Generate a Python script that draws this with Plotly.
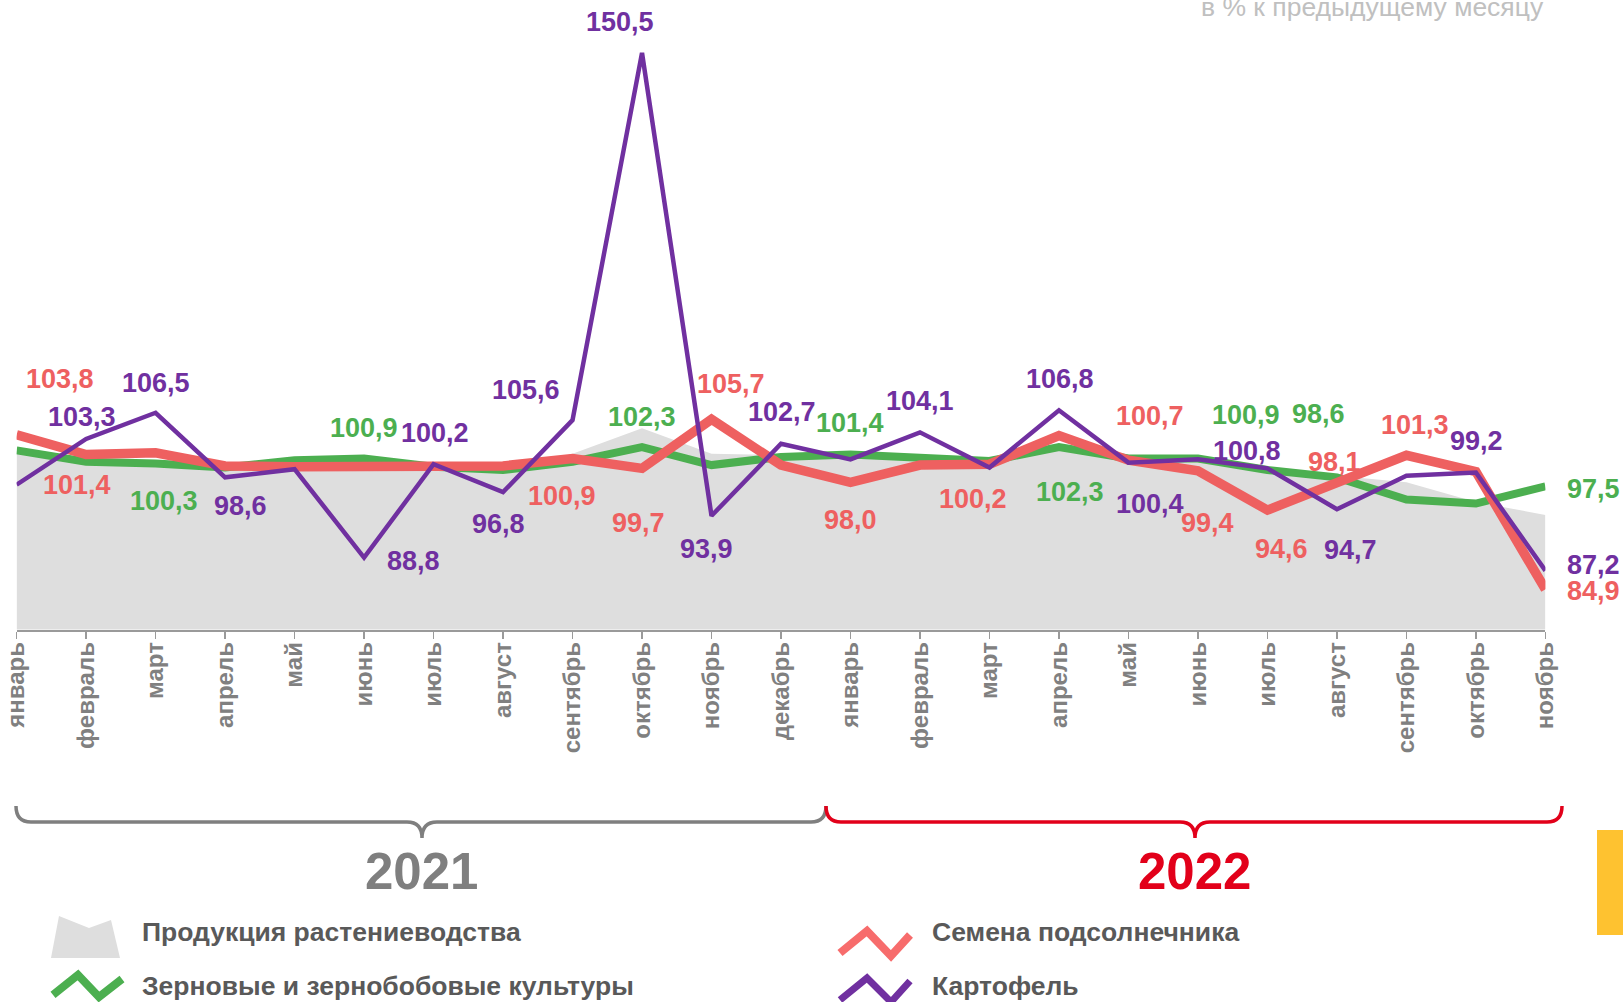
import plotly.graph_objects as go

# ---------------- data ----------------
months_2021 = ["январь", "февраль", "март", "апрель", "май", "июнь", "июль", "август",
               "сентябрь", "октябрь", "ноябрь", "декабрь"]
months_2022 = ["январь", "февраль", "март", "апрель", "май", "июнь", "июль", "август",
               "сентябрь", "октябрь", "ноябрь"]
tick_labels = months_2021 + months_2022

crop_production = [101.8, 100.6, 100.3, 99.8, 100.6, 100.8, 99.9, 99.5, 101.5, 104.6, 101.5, 101.3,
                   101.2, 100.7, 100.5, 102.0, 100.8, 100.7, 99.8, 98.8, 98.0, 95.6, 94.0]
grain = [101.9, 100.5, 100.3, 99.8, 100.7, 100.9, 99.9, 99.5, 100.5, 102.3, 100.1, 101.1,
         101.4, 100.9, 100.6, 102.3, 100.9, 100.9, 99.5, 98.6, 95.9, 95.4, 97.5]
sunflower = [103.8, 101.4, 101.6, 100.0, 99.9, 99.9, 100.0, 100.0, 100.9, 99.7, 105.7, 100.1,
             98.0, 100.1, 100.2, 103.7, 100.7, 99.4, 94.6, 98.1, 101.3, 99.3, 84.9]
potato = [97.7, 103.3, 106.5, 98.6, 99.6, 88.8, 100.2, 96.8, 105.6, 150.5, 93.9, 102.7,
          100.8, 104.1, 99.8, 106.8, 100.4, 100.8, 99.7, 94.7, 98.8, 99.2, 87.2]

series_names = ["Продукция растениеводства", "Зерновые и зернобобовые культуры",
                "Семена подсолнечника", "Картофель"]
year_labels = ["2021", "2022"]
unit_note = "в % к предыдущему месяцу"

# ---------------- style ----------------
W, H = 1623, 1002
C_AREA = "#dedede"
C_GREEN = "#4caf50"
C_RED = "#ee6060"
C_PURPLE = "#7030a0"
C_GRAY_TXT = "#808080"
C_LEG_TXT = "#595959"
C_YEAR22 = "#e2001a"
FONT = "Liberation Sans, Arial, sans-serif"

# which points are labelled, with pixel offsets of the label from the point
lab_potato = [(1, -4, 22), (2, 0, 30), (3, 15, -29), (5, 49, -3), (6, 1, 31), (7, -5, -32),
              (8, -47, 30), (9, -22, 31), (10, -5, -33), (11, 1, 32), (13, 0, 31), (15, 1, 31),
              (16, 22, -41), (17, 49, 8), (19, 14, -41), (21, 1, 31), (22, 48, 6)]
lab_sunflower = [(0, 43, 56), (1, -9, -31), (8, -11, -37), (9, -4, -55), (10, 19, 35),
                 (12, 0, -38), (14, -16, -35), (16, 22, 44), (17, 10, -52), (18, 14, -39),
                 (19, -2, 19), (20, 9, 30), (22, 48, -2)]
lab_grain = [(2, 8, -38), (5, 0, 31), (9, 0, 30), (12, 0, 31), (15, 11, -45), (17, 48, 44),
             (19, -18, 63), (22, 48, -3)]

x = list(range(len(tick_labels)))


def P(px, py):
    return px / W, 1 - py / H


fig = go.Figure()
fig.add_trace(go.Scatter(x=x, y=crop_production, mode="lines", fill="tozeroy",
                         fillcolor=C_AREA, line=dict(width=0, color=C_AREA),
                         name=series_names[0], hoverinfo="skip"))
fig.add_trace(go.Scatter(x=x, y=grain, mode="lines", line=dict(color=C_GREEN, width=8),
                         name=series_names[1]))
fig.add_trace(go.Scatter(x=x, y=sunflower, mode="lines", line=dict(color=C_RED, width=9.5),
                         name=series_names[2]))
fig.add_trace(go.Scatter(x=x, y=potato, mode="lines", line=dict(color=C_PURPLE, width=4.5),
                         name=series_names[3]))

annotations = []
for vals, labs, col in [(grain, lab_grain, C_GREEN), (sunflower, lab_sunflower, C_RED),
                        (potato, lab_potato, C_PURPLE)]:
    for i, dx, dy in labs:
        annotations.append(dict(x=i, y=vals[i], xref="x", yref="y",
                                text=f"{vals[i]:.1f}".replace(".", ","),
                                showarrow=False, xshift=dx, yshift=dy,
                                font=dict(family=FONT, size=27, color=col, weight="bold")))

# unit note
ux, uy = P(1546, 7)
annotations.append(dict(x=ux, y=uy, xref="paper", yref="paper", text=unit_note,
                        xanchor="right", yanchor="middle", showarrow=False,
                        font=dict(family=FONT, size=26.5, color="#c0c0c0")))

# year labels
for txt, cx, col in [(year_labels[0], 421, "#7f7f7f"), (year_labels[1], 1194, C_YEAR22)]:
    ax, ay = P(cx, 871)
    annotations.append(dict(x=ax, y=ay, xref="paper", yref="paper", text=txt,
                            xanchor="center", yanchor="middle", showarrow=False,
                            font=dict(family=FONT, size=51, color=col, weight="bold")))

# legend text
for name, lx, ly in [(series_names[0], 140, 932), (series_names[1], 140, 986),
                     (series_names[2], 930, 932), (series_names[3], 930, 986)]:
    ax, ay = P(lx, ly)
    annotations.append(dict(x=ax, y=ay, xref="paper", yref="paper", text=name,
                            xanchor="left", yanchor="middle", showarrow=False,
                            font=dict(family=FONT, size=26.5, color=C_LEG_TXT, weight="bold")))


def path_from(cmds, close=False):
    parts = []
    for cmd, pts in cmds:
        coords = " ".join("{:.5f},{:.5f}".format(*P(a, b)) for a, b in pts)
        parts.append(f"{cmd}{coords}")
    s = " ".join(parts)
    return s + (" Z" if close else "")


def polyline(pts, close=False):
    cmds = [("M", [pts[0]])] + [("L", [p]) for p in pts[1:]]
    return path_from(cmds, close)


def brace(x0, x1, xt, ytop=806, ymid=822, ytip=838, r=15):
    return path_from([
        ("M", [(x0, ytop)]),
        ("Q", [(x0, ymid), (x0 + r, ymid)]),
        ("L", [(xt - r, ymid)]),
        ("Q", [(xt, ymid), (xt, ytip)]),
        ("Q", [(xt, ymid), (xt + r, ymid)]),
        ("L", [(x1 - r, ymid)]),
        ("Q", [(x1, ymid), (x1, ytop)]),
    ])


shapes = [
    dict(type="path", xref="paper", yref="paper", path=brace(16, 826, 422),
         line=dict(color="#7f7f7f", width=3.5)),
    dict(type="path", xref="paper", yref="paper", path=brace(826, 1562, 1195),
         line=dict(color=C_YEAR22, width=3.5)),
    # legend icons
    dict(type="path", xref="paper", yref="paper",
         path=polyline([(51, 958), (59, 916), (89, 928), (111, 920), (120, 958)], close=True),
         fillcolor=C_AREA, line=dict(width=0)),
    dict(type="path", xref="paper", yref="paper",
         path=polyline([(53, 995), (78, 975), (99, 997), (122, 979)]),
         line=dict(color=C_GREEN, width=8)),
    dict(type="path", xref="paper", yref="paper",
         path=polyline([(840, 953), (867, 931), (891, 956), (910, 935)]),
         line=dict(color="#f76c6c", width=8)),
    dict(type="path", xref="paper", yref="paper",
         path=polyline([(840, 1000), (867, 978), (891, 1002), (910, 981)]),
         line=dict(color=C_PURPLE, width=7)),
    # yellow side tab
    dict(type="rect", xref="paper", yref="paper", x0=1597 / W, x1=1.0, y0=1 - 935 / H,
         y1=1 - 830 / H, fillcolor="#fec230", line=dict(width=0)),
]

fig.update_layout(
    width=W, height=H, autosize=False,
    margin=dict(l=0, r=0, t=0, b=0, pad=0, autoexpand=False),
    paper_bgcolor="white", plot_bgcolor="white",
    showlegend=False,
    hovermode=False,
    annotations=annotations,
    shapes=shapes,
    xaxis=dict(domain=[16.6 / W, 1545.4 / W], range=[0, len(x) - 1], automargin=False,
               tickmode="array", tickvals=x, ticktext=tick_labels,
               tickangle=-90, ticks="outside", ticklen=7, tickwidth=1.5,
               tickcolor="#9a9a9a", showline=True, linecolor="#9a9a9a", linewidth=2,
               showgrid=False, zeroline=False, ticklabelstandoff=-6, fixedrange=True,
               tickfont=dict(family=FONT, size=24, color=C_GRAY_TXT, weight="bold")),
    yaxis=dict(domain=[(H - 629.5) / H, (H - 16) / H], range=[80, 155], visible=False,
               automargin=False, showgrid=False, zeroline=False, fixedrange=True),
)

fig.write_html(
    "out.html",
    config={"displayModeBar": False, "staticPlot": True},
    post_script="document.body.style.margin='0';document.body.style.padding='0';"
                "document.body.style.overflow='hidden';",
)
